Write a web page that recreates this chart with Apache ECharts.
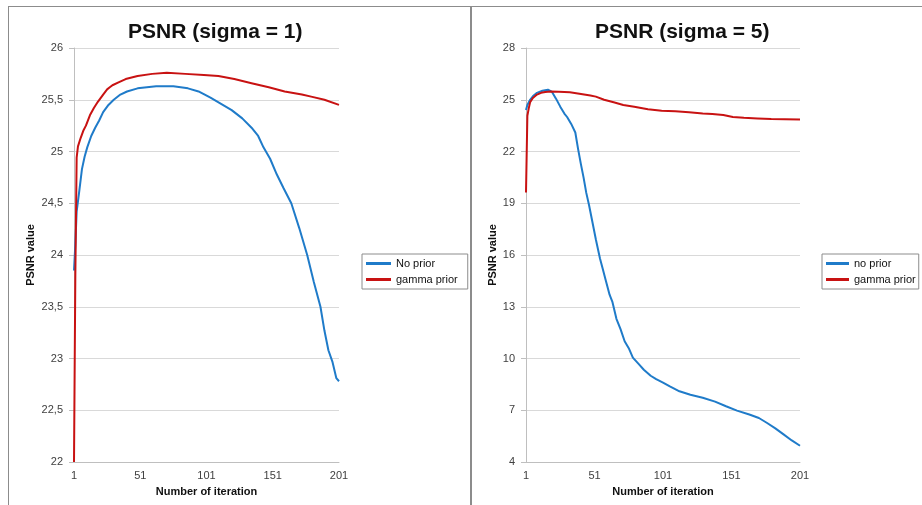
<!DOCTYPE html>
<html><head><meta charset="utf-8">
<script src="https://cdn.jsdelivr.net/npm/echarts@6/dist/echarts.min.js"></script>
<style>html,body{margin:0;padding:0;background:#fff}#c{width:922px;height:505px}</style>
</head><body><div id="c"></div>
<script>
// ---- Data (iteration numbers are 1-based) ----
const xTickLabels = ['1', '51', '101', '151', '201'];

const leftNoPriorIter = [1, 2, 3, 5, 7, 9, 11, 14, 17, 20, 23, 27, 31, 36, 41, 49, 56, 63, 69, 76, 87, 95, 104, 112, 120, 128, 135, 140, 144, 149, 154, 159, 165, 171, 177, 182, 187, 190, 193, 196, 199, 201];
const leftNoPriorVal  = [23.85, 24.1, 24.42, 24.62, 24.83, 24.95, 25.04, 25.15, 25.23, 25.3, 25.38, 25.45, 25.5, 25.55, 25.58, 25.61, 25.62, 25.63, 25.63, 25.63, 25.61, 25.58, 25.52, 25.46, 25.40, 25.32, 25.23, 25.15, 25.04, 24.93, 24.78, 24.65, 24.5, 24.26, 24.0, 23.74, 23.5, 23.27, 23.08, 22.97, 22.81, 22.78];

const leftGammaIter = [1, 2, 3, 4, 6, 8, 10, 13, 16, 19, 23, 26, 28, 30, 35, 40, 49, 60, 71, 85, 99, 110, 122, 135, 148, 160, 173, 180, 190, 201];
const leftGammaVal  = [22.0, 23.8, 24.94, 25.05, 25.13, 25.2, 25.25, 25.35, 25.42, 25.48, 25.55, 25.6, 25.62, 25.64, 25.67, 25.7, 25.73, 25.75, 25.76, 25.75, 25.74, 25.73, 25.70, 25.66, 25.62, 25.58, 25.55, 25.53, 25.5, 25.45];

const rightNoPriorIter = [1, 2, 4, 6, 9, 13, 17, 20, 23, 26, 29, 31, 34, 37, 39, 41, 43, 45, 47, 49, 52, 55, 57, 59, 62, 64, 67, 70, 73, 76, 79, 83, 87, 92, 96, 101, 106, 113, 121, 130, 139, 147, 155, 164, 171, 177, 183, 189, 195, 201];
const rightNoPriorVal  = [24.4, 24.7, 25.0, 25.2, 25.4, 25.52, 25.58, 25.45, 25.05, 24.6, 24.2, 24.0, 23.6, 23.1, 22.15, 21.3, 20.5, 19.6, 18.9, 18.1, 16.9, 15.8, 15.2, 14.6, 13.7, 13.3, 12.3, 11.7, 11.0, 10.6, 10.05, 9.7, 9.35, 9.0, 8.8, 8.6, 8.38, 8.1, 7.9, 7.72, 7.5, 7.23, 6.98, 6.75, 6.55, 6.26, 5.95, 5.6, 5.25, 4.94];

const rightGammaIter = [1, 2, 3, 4, 6, 9, 12, 15, 19, 25, 33, 40, 48, 52, 58, 65, 72, 80, 90, 100, 110, 120, 130, 137, 145, 152, 160, 170, 180, 190, 201];
const rightGammaVal  = [19.62, 24.07, 24.5, 24.85, 25.1, 25.3, 25.4, 25.45, 25.48, 25.47, 25.43, 25.35, 25.25, 25.18, 25.0, 24.85, 24.7, 24.6, 24.45, 24.36, 24.33, 24.28, 24.2, 24.18, 24.12, 24.0, 23.95, 23.92, 23.88, 23.87, 23.85];

// ---- Build ----
function pairs(it, v) { return it.map((x, i) => [x - 1, v[i]]); }
const BLUE = '#1f7bc9', RED = '#c81212';
const axisGray = '#bfbfbf', gridGray = '#d9d9d9', labelColor = '#404040';

function xAxis(gi) {
  return {
    type: 'value', gridIndex: gi, min: 0, max: 200, interval: 50,
    axisLine: { show: true, lineStyle: { color: axisGray } },
    axisTick: { show: false }, splitLine: { show: false },
    axisLabel: { fontSize: 11, color: labelColor, margin: 8, fontFamily: 'Liberation Sans',
      formatter: v => xTickLabels[Math.round(v / 50)] },
    name: 'Number of iteration', nameLocation: 'middle', nameGap: 24,
    nameTextStyle: { fontSize: 11, fontWeight: 'bold', color: '#111', fontFamily: 'Liberation Sans' }
  };
}
function yAxis(gi, min, max, interval, gap, comma) {
  return {
    type: 'value', gridIndex: gi, min: min, max: max, interval: interval,
    axisLine: { show: true, lineStyle: { color: axisGray } },
    axisTick: { show: true, length: 5, lineStyle: { color: axisGray } },
    splitLine: { show: true, lineStyle: { color: gridGray, width: 1 } },
    axisLabel: { fontSize: 11, color: labelColor, margin: 11, fontFamily: 'Liberation Sans',
      formatter: v => comma ? String(v).replace('.', ',') : String(v) },
    name: 'PSNR value', nameLocation: 'middle', nameGap: gap,
    nameTextStyle: { fontSize: 11, fontWeight: 'bold', color: '#111', fontFamily: 'Liberation Sans' }
  };
}
function legend(names, left, padRight, itemW) {
  return {
    data: names, left: left, top: 254, orient: 'vertical',
    borderColor: '#8c8c8c', borderWidth: 1, borderRadius: 0,
    padding: [4, padRight, 4, 4], itemWidth: itemW, itemHeight: 3, itemGap: 5, icon: 'rect',
    textStyle: { fontSize: 11, color: '#111', fontFamily: 'Liberation Sans' },
    selectedMode: false
  };
}
function line(name, xi, data, color) {
  return { type: 'line', name: name, xAxisIndex: xi, yAxisIndex: xi, data: data,
    showSymbol: false, symbol: 'none', color: color, lineStyle: { color: color, width: 2 },
    animation: false };
}

const chart = echarts.init(document.getElementById('c'));
chart.setOption({
  animation: false,
  backgroundColor: '#fff',
  title: [
    { text: 'PSNR (sigma = 1)', left: 128, top: 22, padding: 0,
      textStyle: { fontSize: 21, fontWeight: 'bold', color: '#111', fontFamily: 'Liberation Sans' } },
    { text: 'PSNR (sigma = 5)', left: 595, top: 22, padding: 0,
      textStyle: { fontSize: 21, fontWeight: 'bold', color: '#111', fontFamily: 'Liberation Sans' } }
  ],
  grid: [
    { left: 74, top: 48, width: 265, height: 414 },
    { left: 526, top: 48, width: 274, height: 414 }
  ],
  xAxis: [xAxis(0), xAxis(1)],
  yAxis: [yAxis(0, 22, 26, 0.5, 38, true), yAxis(1, 4, 28, 3, 28, false)],
  legend: [legend(['No prior', 'gamma prior'], 362, 10, 25), legend(['no prior', 'gamma prior'], 822, 3, 23)],
  series: [
    line('No prior', 0, pairs(leftNoPriorIter, leftNoPriorVal), BLUE),
    line('gamma prior', 0, pairs(leftGammaIter, leftGammaVal), RED),
    line('no prior', 1, pairs(rightNoPriorIter, rightNoPriorVal), BLUE),
    line('gamma prior', 1, pairs(rightGammaIter, rightGammaVal), RED)
  ],
  graphic: [
    { type: 'line', shape: { x1: 8.5, y1: 6, x2: 8.5, y2: 505 }, style: { stroke: '#8c8c8c', lineWidth: 1 } },
    { type: 'line', shape: { x1: 8, y1: 6.5, x2: 922, y2: 6.5 }, style: { stroke: '#8c8c8c', lineWidth: 1 } },
    { type: 'line', shape: { x1: 471, y1: 6, x2: 471, y2: 505 }, style: { stroke: '#8c8c8c', lineWidth: 2 } }
  ]
});
</script>
</body></html>
